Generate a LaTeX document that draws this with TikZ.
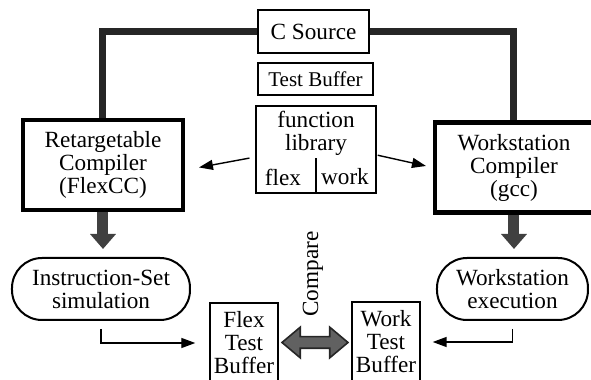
\documentclass[tikz,border=0pt]{standalone}
\usepackage{fontspec}
\setmainfont{Liberation Serif}
\usetikzlibrary{arrows.meta,shapes.arrows,calc}

\tikzset{
  box/.style={draw, line width=0.7pt, inner sep=0pt, align=center,
    font=\fontsize{11.6}{11.5}\selectfont},
  comp/.style={box, line width=2.2pt, minimum height=45pt},
  run/.style={box, line width=1pt, rounded corners=15pt, minimum height=31pt},
  buf/.style={box, minimum width=34pt, minimum height=40pt},
  feed/.style={line width=3.5pt, black!85},
  pipe/.style={line width=5.5pt, black!75, -{Triangle[width=12.5pt,length=7.5pt]}, shorten >=4pt},
  arr/.style={line width=0.7pt, -{Triangle[width=5pt,length=7pt]}},
}

\begin{document}
\begin{tikzpicture}[x=0.5pt,y=-0.5pt]
  \useasboundingbox (0,0) rectangle (591,380);

  % sources
  \node[box, minimum width=55.5pt, minimum height=21.5pt] (src) at (313.5,31.5) {C Source};
  \node[box, minimum width=57.5pt, minimum height=16pt, font=\fontsize{10.5}{11}\selectfont] (tbuf) at (315.5,79) {Test Buffer};
  \node[box, minimum width=60pt, minimum height=43.5pt] (lib) at (316,149.5) {};
  \node[box, draw=none] (libtxt) at (316,133.5) {function\\library};
  \node[box, draw=none] (flex) at (283,177) {flex};
  \node[box, draw=none] (work) at (345,177) {work};
  \draw[line width=0.7pt] (lib.south) -- ++(0,-36);

  % compilers
  \node[comp, minimum width=80pt] (rcc) at (103,165) {Retargetable\\Compiler\\(FlexCC)};
  \node[comp, minimum width=79pt] (wsc) at (514,167.5) {Workstation\\Compiler\\(gcc)};
  \node[run, minimum width=89pt] (sim) at (101,289) {Instruction-Set\\simulation};
  \node[run, minimum width=75.5pt] (wexe) at (512.5,289) {Workstation\\execution};

  % result buffers
  \node[buf] (fbuf) at (244,343) {Flex\\Test\\Buffer};
  \node[buf] (wbuf) at (386,342) {Work\\Test\\Buffer};
  \node[double arrow, draw=black!85, fill=black!62, line width=0.8pt, inner sep=2.5pt,
    minimum height=33pt, double arrow head extend=4.75pt, double arrow tip angle=80]
    (cmp) at ($(fbuf.east)!0.5!(wbuf.west)$) {};
  \node[rotate=90, font=\fontsize{11.6}{11.5}\selectfont] (cmplbl) at (313,274) {Compare};

  \draw[feed] (src.west) -| (rcc.north);
  \draw[feed] (src.east) -| (wsc.north);
  \draw[pipe] (rcc.south) -- (rcc.south |- sim.north);
  \draw[pipe] (wsc.south) -- (wsc.south |- wexe.north);

  \draw[arr, shorten <=3pt, shorten >=7pt] ([yshift=-3.75pt]lib.west) -- ([yshift=-2.5pt]rcc.east);
  \draw[arr, shorten <=0.5pt, shorten >=3.5pt] ([yshift=-2.75pt]lib.east) -- ([yshift=0pt]wsc.west);
  \draw[arr, shorten <=4pt, shorten >=7pt] (sim.south) |- (fbuf.west);
  \draw[arr, shorten <=4pt, shorten >=6pt] (wexe.south) |- (wbuf.east);
\end{tikzpicture}
\end{document}
